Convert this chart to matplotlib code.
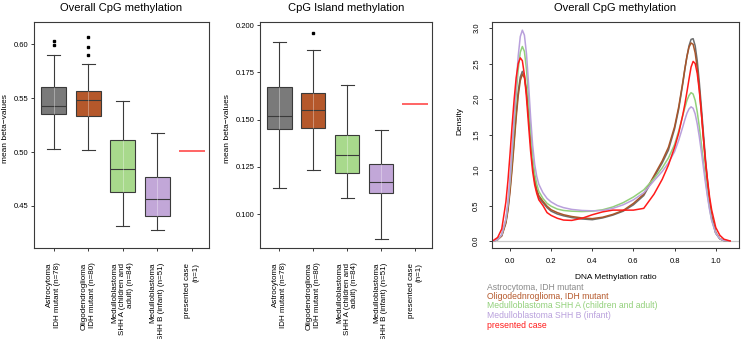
import numpy as np
import matplotlib
matplotlib.use("Agg")
import matplotlib.pyplot as plt

plt.rcParams['font.family'] = ['Liberation Sans', 'DejaVu Sans']

# ---- box plot data ----
groups = ["Astrocytoma\nIDH mutant (n=78)",
          "Oligodendroglioma\nIDH mutant (n=80)",
          "Medulloblastoma\nSHH A (children and\nadult) (n=84)",
          "Medulloblastoma\nSHH B (infant) (n=51)",
          "presented case\n(n=1)"]
box_colors = ['#7a7a7a', '#b5582b', '#a8d98c', '#c2a7d8']

# overall CpG: whislo, q1, median, q3, whishi
overall_lo = [0.5025, 0.5019, 0.4314, 0.4277]
overall_q1 = [0.5352, 0.5336, 0.4626, 0.4404]
overall_med = [0.5432, 0.5479, 0.4840, 0.4565]
overall_q3 = [0.5605, 0.5565, 0.5111, 0.4765]
overall_hi = [0.5905, 0.5815, 0.5470, 0.5175]
overall_fliers = [[0.6031, 0.5995], [0.6067, 0.5975, 0.5902], [], []]
overall_case = 0.5012

# CpG island
island_lo = [0.1139, 0.1232, 0.1086, 0.0871]
island_q1 = [0.1452, 0.1456, 0.1218, 0.1110]
island_med = [0.1520, 0.1551, 0.1312, 0.1171]
island_q3 = [0.1674, 0.1641, 0.1419, 0.1268]
island_hi = [0.1909, 0.1866, 0.1683, 0.1447]
island_fliers = [[], [0.1959], [], []]
island_case = 0.1581

# ---- density curves ----
dens_x = [-0.08, -0.06, -0.04, -0.02, -0.01, 0.00, 0.01, 0.02, 0.03, 0.04, 0.05,
          0.06, 0.07, 0.08, 0.09, 0.10, 0.11, 0.12, 0.13, 0.14, 0.16, 0.18, 0.20,
          0.23, 0.26, 0.30, 0.35, 0.40, 0.45, 0.50, 0.55, 0.60, 0.65, 0.70, 0.74,
          0.77, 0.80, 0.82, 0.84, 0.85, 0.86, 0.87, 0.88, 0.89, 0.90, 0.91, 0.92,
          0.93, 0.94, 0.95, 0.96, 0.97, 0.98, 1.00, 1.02, 1.04, 1.07]
dens_astro = [0.00, 0.02, 0.08, 0.27, 0.46, 0.73, 1.06, 1.43, 1.80, 2.11, 2.31,
              2.39, 2.33, 2.12, 1.78, 1.40, 1.07, 0.84, 0.70, 0.61, 0.54, 0.47, 0.42,
              0.38, 0.355, 0.33, 0.31, 0.30, 0.325, 0.365, 0.42, 0.51, 0.64, 0.90, 1.10,
              1.28, 1.58, 1.86, 2.22, 2.42, 2.60, 2.75, 2.84, 2.85, 2.75, 2.54, 2.24,
              1.89, 1.52, 1.16, 0.84, 0.57, 0.36, 0.12, 0.03, 0.007, 0.0]
dens_oligo = [0.00, 0.02, 0.07, 0.25, 0.43, 0.69, 1.01, 1.37, 1.74, 2.05, 2.26,
              2.35, 2.30, 2.10, 1.77, 1.41, 1.09, 0.87, 0.73, 0.64, 0.56, 0.49, 0.44,
              0.40, 0.37, 0.345, 0.325, 0.315, 0.335, 0.375, 0.43, 0.53, 0.66, 0.92, 1.13,
              1.32, 1.61, 1.89, 2.24, 2.43, 2.60, 2.73, 2.79, 2.77, 2.65, 2.44, 2.15,
              1.81, 1.45, 1.10, 0.80, 0.54, 0.34, 0.11, 0.03, 0.006, 0.0]
dens_mba = [0.00, 0.02, 0.09, 0.30, 0.52, 0.83, 1.21, 1.63, 2.06, 2.42, 2.66,
            2.74, 2.67, 2.42, 2.02, 1.58, 1.20, 0.95, 0.80, 0.70, 0.60, 0.53, 0.49,
            0.45, 0.43, 0.42, 0.415, 0.42, 0.44, 0.48, 0.54, 0.62, 0.72, 0.88, 1.03,
            1.17, 1.36, 1.55, 1.77, 1.88, 1.98, 2.05, 2.09, 2.07, 1.98, 1.82, 1.61,
            1.37, 1.12, 0.88, 0.65, 0.46, 0.30, 0.11, 0.03, 0.007, 0.0]
dens_mbb = [0.00, 0.02, 0.09, 0.31, 0.54, 0.87, 1.28, 1.74, 2.21, 2.61, 2.88,
            2.97, 2.90, 2.64, 2.22, 1.75, 1.35, 1.08, 0.91, 0.80, 0.68, 0.60, 0.55,
            0.50, 0.47, 0.445, 0.43, 0.425, 0.43, 0.46, 0.51, 0.58, 0.68, 0.85, 0.98,
            1.10, 1.26, 1.42, 1.61, 1.71, 1.80, 1.86, 1.89, 1.87, 1.79, 1.65, 1.47,
            1.26, 1.04, 0.82, 0.62, 0.44, 0.29, 0.11, 0.03, 0.007, 0.0]
dens_case = [0.01, 0.05, 0.17, 0.55, 0.85, 1.22, 1.62, 1.99, 2.30, 2.50, 2.58,
             2.54, 2.34, 2.02, 1.64, 1.27, 0.98, 0.79, 0.67, 0.58, 0.50, 0.40, 0.36,
             0.32, 0.295, 0.29, 0.32, 0.37, 0.41, 0.435, 0.435, 0.435, 0.46, 0.66, 0.87,
             1.07, 1.32, 1.52, 1.78, 1.93, 2.10, 2.28, 2.45, 2.53, 2.50, 2.36, 2.12,
             1.80, 1.45, 1.12, 0.86, 0.62, 0.44, 0.19, 0.08, 0.025, 0.0]
dens_labels = ["Astrocytoma, IDH mutant", "Oligodednroglioma, IDH mutant",
               "Medulloblastoma SHH A (children and adult)",
               "Medulloblastoma SHH B (infant)", "presented case"]
line_colors = ['#6e6e6e', '#a8552a', '#92d07a', '#b9a0dc', '#ff1a1a']
text_colors = ['#8a8a8a', '#b5582b', '#92d07a', '#b9a0dc', '#ff1a1a']

fig = plt.figure(figsize=(7.43, 3.39), dpi=100)
W, H = 743.0, 339.0

def axes_px(x0, x1, y0, y1):
    return fig.add_axes([x0 / W, 1 - y1 / H, (x1 - x0) / W, (y1 - y0) / H])

edge = '#3a3a3a'

def boxpanel(ax, lo, q1, med, q3, hi, fliers, case, ylim, yticks, fmt, title, ylab_x):
    stats = []
    for i in range(4):
        stats.append(dict(whislo=lo[i], q1=q1[i], med=med[i], q3=q3[i],
                          whishi=hi[i], fliers=fliers[i]))
    pos = [1, 2, 3, 4]
    bp = ax.bxp(stats, positions=pos, widths=0.72, patch_artist=True,
                capwidths=0.38,
                boxprops=dict(edgecolor=edge, linewidth=0.8),
                whiskerprops=dict(color=edge, linewidth=0.8),
                capprops=dict(color=edge, linewidth=0.8),
                medianprops=dict(color=edge, linewidth=0.8),
                flierprops=dict(marker='s', markersize=1.6, markerfacecolor='black',
                                markeredgecolor='black'))
    for patch, c in zip(bp['boxes'], box_colors):
        patch.set_facecolor(c)
    # whisker line showing faintly through the box
    ax.vlines(pos, q1, q3, color='white', alpha=0.35, lw=0.7, zorder=3)
    ax.hlines(case, 5 - 0.38, 5 + 0.38, color='#ff3b3b', lw=1.1)
    ax.set_xlim(0.43, 5.5)
    ax.set_ylim(*ylim)
    ax.set_yticks(yticks)
    ax.set_yticklabels([fmt % v for v in yticks])
    ax.set_xticks([1, 2, 3, 4, 5])
    ax.set_xticklabels(groups, rotation=90, va='top', ha='center',
                       multialignment='right', fontsize=5.8, linespacing=1.15)
    ax.tick_params(axis='x', length=2.5, pad=8, width=0.7, color=edge)
    ax.tick_params(axis='y', length=2.5, pad=1.5, width=0.7, labelsize=5.5, color=edge)
    ax.set_ylabel('mean beta\u2212values', fontsize=6)
    ax.yaxis.set_label_coords(ylab_x, 0.53)
    ax.text(0.5, 1 + 14 / 226.0, title, transform=ax.transAxes, ha='center',
            va='center', fontsize=8)
    for s in ax.spines.values():
        s.set_linewidth(0.8)
        s.set_color(edge)

ax1 = axes_px(34, 209, 22, 248)
boxpanel(ax1, overall_lo, overall_q1, overall_med, overall_q3, overall_hi,
         overall_fliers, overall_case, (0.411, 0.6207),
         [0.45, 0.50, 0.55, 0.60], '%.2f', 'Overall CpG methylation', -0.143)

ax2 = axes_px(260, 432, 22, 248)
boxpanel(ax2, island_lo, island_q1, island_med, island_q3, island_hi,
         island_fliers, island_case, (0.0822, 0.2016),
         [0.100, 0.125, 0.150, 0.175, 0.200], '%.3f', 'CpG Island methylation', -0.169)

# ---- density panel ----
ax3 = axes_px(492, 739, 22, 248)
ax3.axhline(0, color='#c8c8c8', lw=0.9, zorder=1)
for ys, c in zip([dens_astro, dens_oligo, dens_mba, dens_mbb, dens_case], line_colors):
    ax3.plot(dens_x, ys, color=c, lw=1.1, zorder=2)
ax3.set_xlim(-0.0875, 1.113)
ax3.set_ylim(-0.0986, 3.085)
ax3.set_xticks([0.0, 0.2, 0.4, 0.6, 0.8, 1.0])
ax3.set_xticklabels(['0.0', '0.2', '0.4', '0.6', '0.8', '1.0'])
ax3.set_yticks([0.0, 0.5, 1.0, 1.5, 2.0, 2.5, 3.0])
ax3.set_yticklabels(['0.0', '0.5', '1.0', '1.5', '2.0', '2.5', '3.0'],
                    rotation=90, va='center')
ax3.tick_params(axis='x', length=2.5, pad=4.5, width=0.7, labelsize=5.5, color=edge)
ax3.tick_params(axis='y', length=2.5, pad=6, width=0.7, labelsize=5.5, color=edge)
ax3.set_xlabel('DNA Methylation ratio', fontsize=6)
ax3.xaxis.set_label_coords(0.5, -0.115)
ax3.set_ylabel('Density', fontsize=6)
ax3.yaxis.set_label_coords(-0.117, 0.56)
ax3.text(0.5, 1 + 14 / 226.0, 'Overall CpG methylation', transform=ax3.transAxes,
         ha='center', va='center', fontsize=8)
for s in ax3.spines.values():
    s.set_linewidth(0.8)
    s.set_color(edge)

# legend as coloured text lines below the density panel
for i, (lab, c) in enumerate(zip(dens_labels, text_colors)):
    fig.text(487 / W, 1 - (287 + 9.5 * i) / H, lab, color=c, fontsize=6.2,
             ha='left', va='center')

fig.savefig('out.png', dpi=100)
